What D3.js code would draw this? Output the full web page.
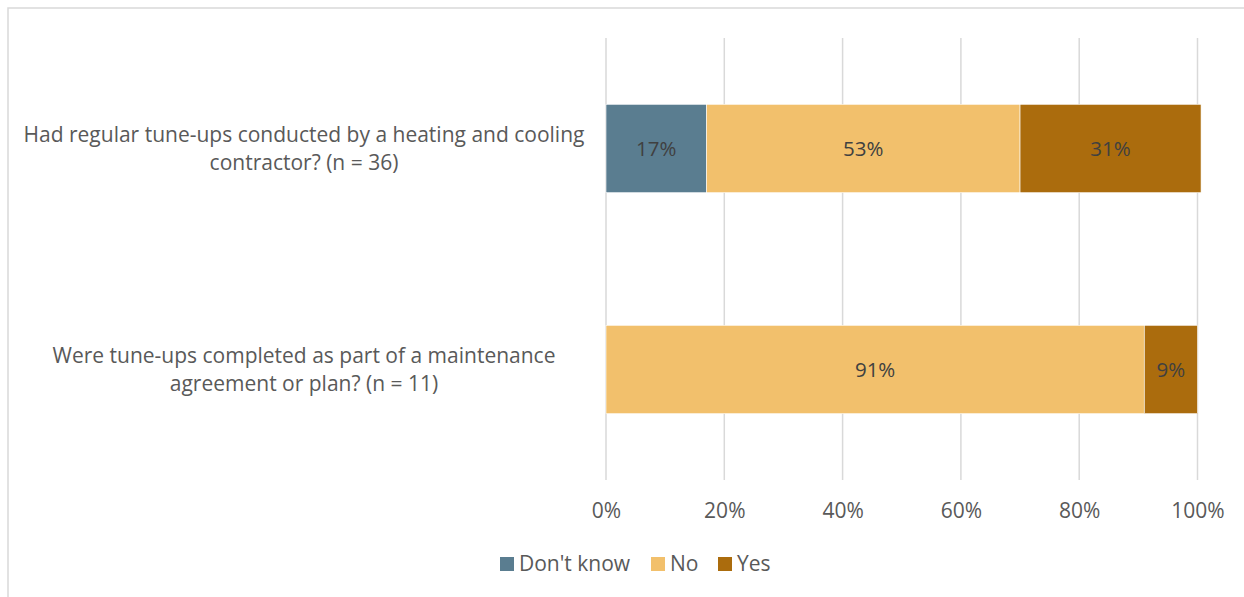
<!DOCTYPE html>
<html><head><meta charset="utf-8">
<script src="https://cdn.jsdelivr.net/npm/d3@7"></script>
<style>html,body{margin:0;padding:0;background:#fff;}svg{display:block;}</style>
</head><body>
<svg id="chart" width="1244" height="597"></svg>
<script>
const categories = [
  ["Had regular tune-ups conducted by a heating and cooling", "contractor? (n = 36)"],
  ["Were tune-ups completed as part of a maintenance", "agreement or plan? (n = 11)"]
];
const seriesNames = ["Don't know", "No", "Yes"];
const dontKnow = [17, 0];
const no = [53, 91];
const yes = [30.6, 9];
const tickValues = [0, 20, 40, 60, 80, 100];
const colors = ["#5a7d90", "#f2c06c", "#ab6c0d"];

const svg = d3.select("#chart");
const font = "'Open Sans', sans-serif";
svg.append("rect").attr("x", 8).attr("y", 8).attr("width", 1250).attr("height", 600)
  .attr("fill", "#fff").attr("stroke", "#d9d9d9").attr("stroke-width", 1.5);

const x = d3.scaleLinear().domain([0, 100]).range([606, 1197.5]);
const y = d3.scaleBand().domain(d3.range(categories.length)).range([38, 480])
  .paddingInner(0.6).paddingOuter(0.3);

// gridlines
svg.append("g").selectAll("line").data(tickValues).join("line")
  .attr("x1", d => x(d)).attr("x2", d => x(d))
  .attr("y1", 38).attr("y2", 480)
  .attr("stroke", "#d9d9d9").attr("stroke-width", 1.5);

const rows = categories.map((c, i) => ({i, vals: [dontKnow[i], no[i], yes[i]]}));
const stackData = rows.map(r => {
  let acc = 0;
  return r.vals.map((v, s) => { const o = {i: r.i, s, v, x0: acc, x1: acc + v}; acc += v; return o; });
}).flat().filter(d => d.v > 0);

svg.append("g").selectAll("rect").data(stackData).join("rect")
  .attr("x", d => x(d.x0)).attr("width", d => x(d.x1) - x(d.x0))
  .attr("y", d => y(d.i)).attr("height", y.bandwidth())
  .attr("fill", d => colors[d.s]).attr("stroke", "#fff").attr("stroke-width", 0.6);

svg.append("g").selectAll("text").data(stackData).join("text")
  .attr("x", d => (x(d.x0) + x(d.x1)) / 2)
  .attr("y", d => y(d.i) + y.bandwidth() / 2)
  .attr("dy", "0.35em").attr("text-anchor", "middle")
  .attr("font-family", font).attr("font-size", 20.5).attr("fill", "#404040")
  .text(d => Math.round(d.v) + "%");

// category labels
const lab = svg.append("g").selectAll("text").data(categories).join("text")
  .attr("x", 304).attr("text-anchor", "middle")
  .attr("font-family", font).attr("font-size", 21).attr("fill", "#595959");
lab.each(function(lines, i) {
  const cy = y(i) + y.bandwidth() / 2;
  d3.select(this).selectAll("tspan").data(lines).join("tspan")
    .attr("x", 304).attr("y", (d, k) => cy - 14 + k * 28).attr("dy", "0.35em").text(d => d);
});

// x axis
const axis = d3.axisBottom(x).tickValues(tickValues).tickFormat(d => d + "%").tickSize(0).tickPadding(0);
const ax = svg.append("g").attr("transform", "translate(0,511)").call(axis);
ax.select(".domain").remove();
ax.selectAll("text").attr("font-family", font).attr("font-size", 21).attr("fill", "#595959")
  .attr("dy", "0.35em").attr("y", 0);

// legend
const legX = [500, 651, 718];
const leg = svg.append("g").selectAll("g").data(seriesNames).join("g")
  .attr("transform", (d, i) => `translate(${legX[i]},557)`);
leg.append("rect").attr("width", 14).attr("height", 14).attr("fill", (d, i) => colors[i]);
leg.append("text").attr("x", 19).attr("y", 7).attr("dy", "0.35em")
  .attr("font-family", font).attr("font-size", 21).attr("fill", "#595959").text(d => d);
</script>
</body></html>
